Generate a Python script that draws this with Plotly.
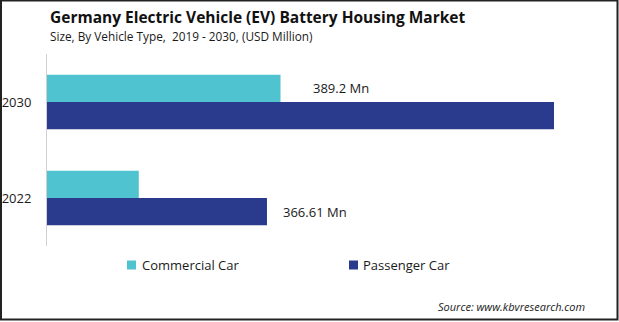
import plotly.graph_objects as go

# Market size by vehicle type (USD Million)
years = ["2022", "2030"]
commercial_car = [153.0, 389.2]
passenger_car = [366.61, 845.0]
series_names = ["Commercial Car", "Passenger Car"]
series_colors = ["#4FC3CF", "#2A3A8C"]

# Values called out next to their bars: (series index, year index, text)
callouts = [(0, 1, "389.2 Mn"), (1, 0, "366.61 Mn")]

W, H = 619, 322
L, R, T, B = 47, 19, 54, 76
plot_w, plot_h = W - L - R, H - T - B
BARGAP = 0.43

font_family = "Open Sans, sans-serif"
text_color = "#1a1a1a"


def px_x(x):
    """Figure pixel column -> paper x."""
    return (x - L) / plot_w


def px_y(y):
    """Figure pixel row -> paper y."""
    return (T + plot_h - y) / plot_h


fig = go.Figure()

# Passenger added first so it sits below Commercial within each year group
fig.add_trace(go.Bar(
    y=years, x=passenger_car, orientation="h", name=series_names[1],
    marker=dict(color=series_colors[1], line=dict(width=0)),
))
fig.add_trace(go.Bar(
    y=years, x=commercial_car, orientation="h", name=series_names[0],
    marker=dict(color=series_colors[0], line=dict(width=0)),
))

values = [commercial_car, passenger_car]
half_bar = (1 - BARGAP) / 4
offsets = {0: half_bar, 1: -half_bar}
shifts = {0: 30, 1: 14}
annotations = []
for s, i, txt in callouts:
    annotations.append(dict(
        x=values[s][i], y=i + offsets[s], xref="x", yref="y",
        text=txt, showarrow=False, xanchor="left", yanchor="middle",
        xshift=shifts[s], font=dict(family=font_family, size=13, color=text_color),
    ))

# Title, subtitle and source line
annotations += [
    dict(text="<b>Germany Electric Vehicle (EV) Battery Housing Market</b>",
         xref="paper", yref="paper", x=px_x(48), y=px_y(17),
         xanchor="left", yanchor="middle", showarrow=False,
         font=dict(family=font_family, size=15.5, color="#111111")),
    dict(text="Size, By Vehicle Type,  2019 - 2030, (USD Million)",
         xref="paper", yref="paper", x=px_x(48), y=px_y(36),
         xanchor="left", yanchor="middle", showarrow=False,
         font=dict(family=font_family, size=11.8, color=text_color)),
    dict(text="<i>Source: www.kbvresearch.com</i>",
         xref="paper", yref="paper", x=px_x(587), y=px_y(306),
         xanchor="right", yanchor="middle", showarrow=False,
         font=dict(family=font_family, size=11, color=text_color)),
]

# Legend: small swatches with series names underneath the bars
legend_items = [(127, 140, 0), (349, 361, 1)]
shapes = []
for sq_x, txt_x, s in legend_items:
    shapes.append(dict(
        type="rect", xref="paper", yref="paper",
        x0=px_x(sq_x), x1=px_x(sq_x + 9), y0=px_y(269.5), y1=px_y(260.5),
        line=dict(width=0), fillcolor=series_colors[s],
    ))
    annotations.append(dict(
        text=series_names[s], xref="paper", yref="paper",
        x=px_x(txt_x), y=px_y(265), xanchor="left", yanchor="middle",
        showarrow=False, font=dict(family=font_family, size=13, color=text_color),
    ))

# Dark frame around the whole figure
shapes.append(dict(
    type="rect", xref="paper", yref="paper",
    x0=px_x(1), x1=px_x(617.5), y0=px_y(319.5), y1=px_y(0.5),
    line=dict(color="#222222", width=2), fillcolor="rgba(0,0,0,0)", layer="above",
))

fig.update_layout(
    width=W, height=H,
    margin=dict(l=L, r=R, t=T, b=B, autoexpand=False),
    paper_bgcolor="white", plot_bgcolor="white",
    barmode="group", bargap=BARGAP, bargroupgap=0,
    showlegend=False,
    xaxis=dict(range=[0, plot_w / 0.6], visible=False, fixedrange=True),
    yaxis=dict(
        type="category", categoryorder="array", categoryarray=years,
        range=[-0.5, 1.5], automargin=False,
        showline=True, linecolor="#D0D0D0", linewidth=1,
        showgrid=False, zeroline=False, ticks="", ticklabelstandoff=12,
        tickfont=dict(family=font_family, size=13, color=text_color),
    ),
    annotations=annotations, shapes=shapes,
    font=dict(family=font_family, color=text_color),
)

fig.write_html("out.html")
